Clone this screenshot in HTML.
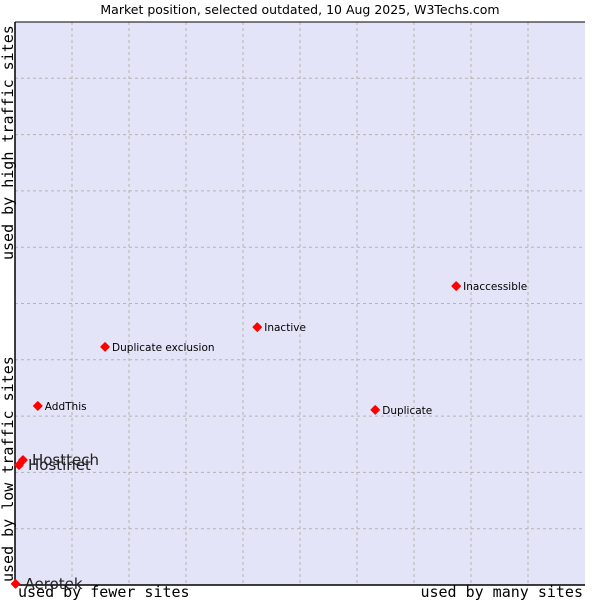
<!DOCTYPE html>
<html><head><meta charset="utf-8"><style>
body{margin:0;background:#fff;}
svg{display:block;font-family:"DejaVu Sans","Liberation Sans",sans-serif;}
</style></head><body>
<svg id="chart" width="600" height="600" viewBox="0 0 600 600">
<text x="300" y="14" text-anchor="middle" font-size="12.5" fill="#000">Market position, selected outdated, 10 Aug 2025, W3Techs.com</text>
<rect x="15" y="22" width="570" height="563" fill="#e3e4f7"/>
<g id="grid"></g>
<line x1="15" y1="22" x2="15" y2="585" stroke="#000" stroke-width="1.5"/>
<line x1="15" y1="585" x2="585" y2="585" stroke="#000" stroke-width="1.5"/>
<line x1="15" y1="22" x2="585" y2="22" stroke="#000" stroke-width="1"/>
<text x="18" y="597" font-family="'DejaVu Sans Mono','Liberation Mono',monospace" font-size="15">used by fewer sites</text>
<text x="583" y="597" text-anchor="end" font-family="'DejaVu Sans Mono','Liberation Mono',monospace" font-size="15">used by many sites</text>
<text transform="translate(13,582) rotate(-90)" font-family="'DejaVu Sans Mono','Liberation Mono',monospace" font-size="15">used by low traffic sites</text>
<text transform="translate(13,260) rotate(-90)" font-family="'DejaVu Sans Mono','Liberation Mono',monospace" font-size="15">used by high traffic sites</text>
<g id="points"></g>
</svg>
<script>
const names = ["Aerotek","Hostinet","Hosttech","AddThis","Duplicate exclusion","Inactive","Duplicate","Inaccessible"];
const xValues = [0.1,0.7,1.4,4.0,15.8,42.5,63.2,77.4];
const yValues = [0.2,21.3,22.2,31.8,42.3,45.8,31.1,53.1];
const bigLabel = [true,true,true,false,false,false,false,false];
const L=15,R=585,T=22,B=585;
const xs=v=>L+v/100*(R-L);
const ys=v=>B-v/100*(B-T);
const NS="http://www.w3.org/2000/svg";
const grid=document.getElementById('grid');
for(let i=1;i<10;i++){
  const gx=document.createElementNS(NS,'line');
  
  
  gx.setAttribute('x1',xs(i*10));gx.setAttribute('x2',xs(i*10));
  gx.setAttribute('y1',T);gx.setAttribute('y2',B);
  gx.setAttribute('stroke','#b4b4b4');gx.setAttribute('stroke-dasharray','3,3');
  grid.appendChild(gx);
  const gy=document.createElementNS(NS,'line');
  
  
  gy.setAttribute('y1',ys(i*10));gy.setAttribute('y2',ys(i*10));
  gy.setAttribute('x1',L);gy.setAttribute('x2',R);
  gy.setAttribute('stroke','#b4b4b4');gy.setAttribute('stroke-dasharray','3,3');
  grid.appendChild(gy);
}
const pts=document.getElementById('points');
names.forEach((n,i)=>{
  const x=xs(xValues[i]),y=ys(yValues[i]);
  const p=document.createElementNS(NS,'path');
  
  
  p.setAttribute('d',`M${x} ${y-4}L${x+4} ${y}L${x} ${y+4}L${x-4} ${y}Z`);
  p.setAttribute('fill','#ff0000');
  p.setAttribute('stroke','#ff0000');
  p.setAttribute('stroke-width','1.5');
  p.setAttribute('stroke-linejoin','round');
  pts.appendChild(p);
  const t=document.createElementNS(NS,'text');
  
  
  t.setAttribute('x',x+(bigLabel[i]?9:7));
  t.setAttribute('y',y+(bigLabel[i]?5:4));
  t.setAttribute('font-size',bigLabel[i]?15:10.5);
  t.setAttribute('fill',bigLabel[i]?'#222':'#000');
  t.textContent=n;
  pts.appendChild(t);
});
</script>
</body></html>
